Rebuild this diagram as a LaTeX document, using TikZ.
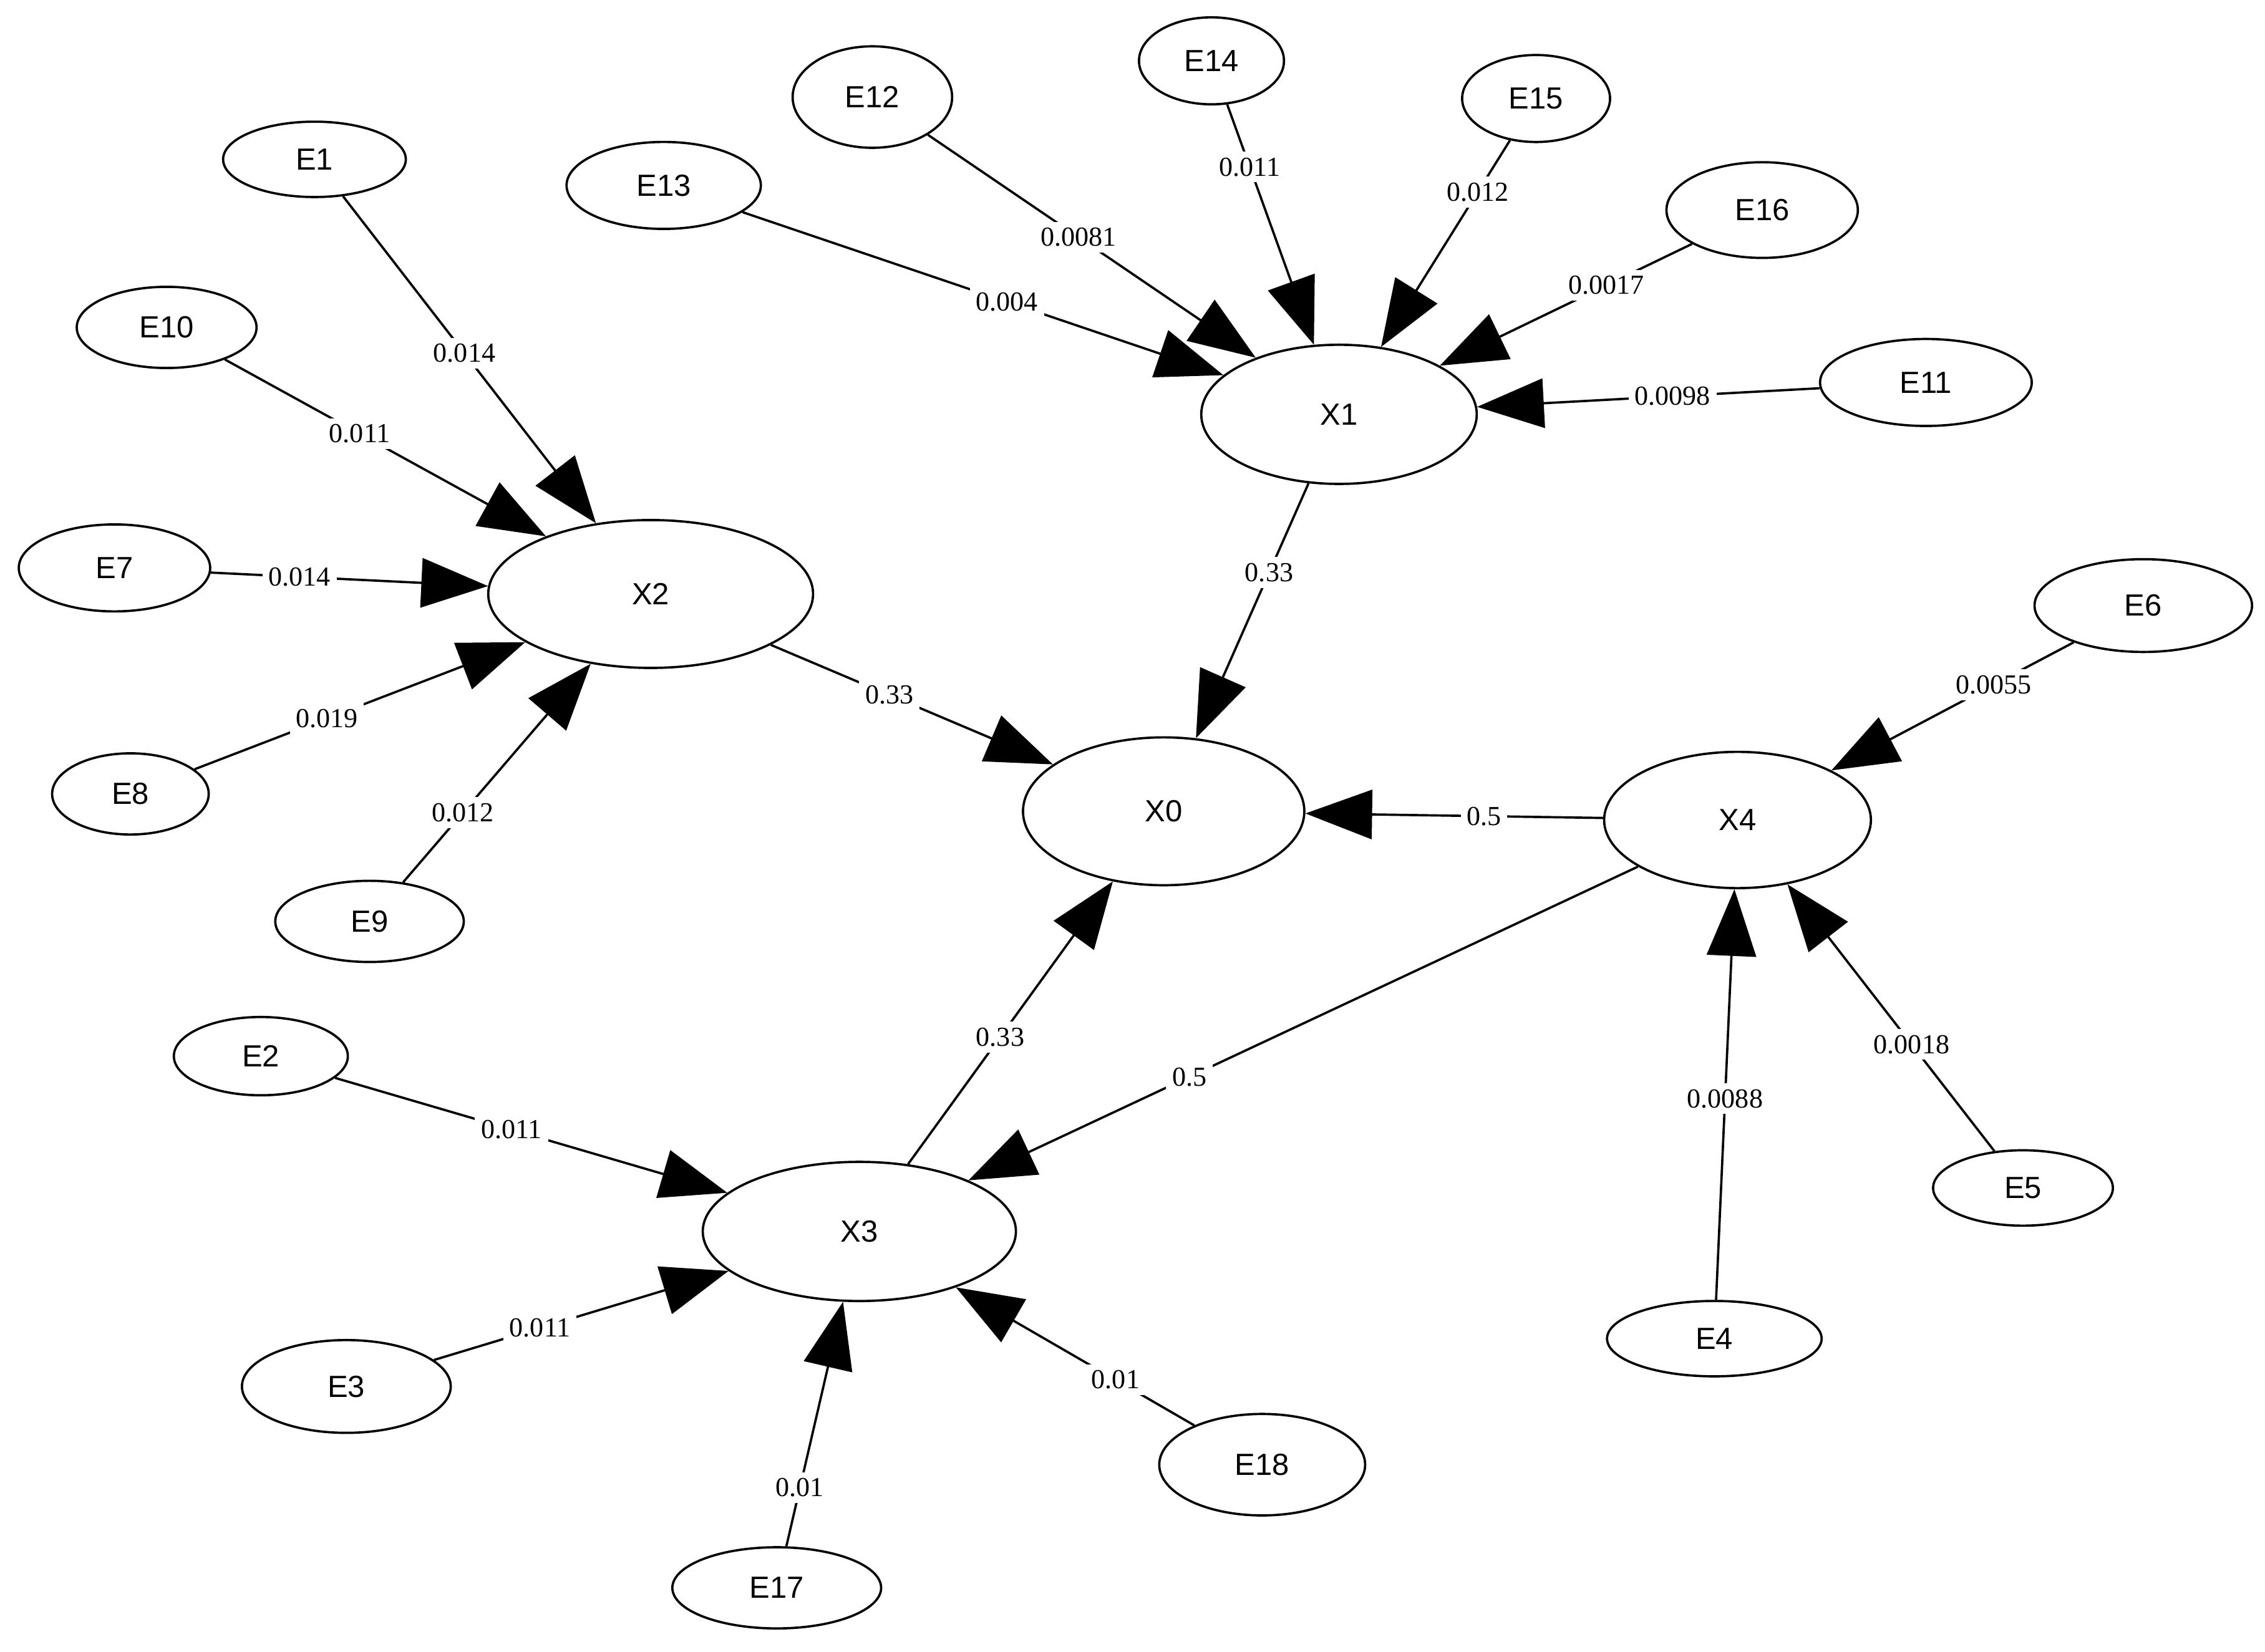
\documentclass[tikz,border=0pt]{standalone}
\usepackage{fontspec}
\setmainfont{Liberation Serif}
\newfontfamily\nodefont{Liberation Sans}
\usetikzlibrary{shapes.geometric, arrows.meta}

\begin{document}
\begin{tikzpicture}[x=0.01cm, y=-0.01cm,
    var/.style={ellipse, draw, line width=0.45pt, inner sep=0pt, font=\nodefont\fontsize{6}{7}\selectfont},
    sz/.style 2 args={minimum width=#1cm, minimum height=#2cm},
    link/.style={-{Triangle[length=4.6mm,width=3.4mm]}, line width=0.45pt},
    w/.style={fill=white, inner sep=1.2pt, font=\fontsize{5.4}{6}\selectfont}]
        \useasboundingbox (0,0) rectangle (1563,1140);

        % latentes
        \node[var, sz={1.90}{0.96}] (X1) at (924,286) {X1};
        \node[var, sz={2.24}{1.02}] (X2) at (449,410) {X2};
        \node[var, sz={1.94}{1.02}] (X0) at (803,560) {X0};
        \node[var, sz={1.84}{0.94}] (X4) at (1199,566) {X4};
        \node[var, sz={2.16}{0.96}] (X3) at (593,850) {X3};

        % erros de X2
        \node[var, sz={1.26}{0.52}] (E1) at (217,110) {E1};
        \node[var, sz={1.24}{0.56}] (E10) at (115,226) {E10};
        \node[var, sz={1.32}{0.60}] (E7) at (79,392) {E7};
        \node[var, sz={1.08}{0.56}] (E8) at (90,548) {E8};
        \node[var, sz={1.30}{0.56}] (E9) at (255,636) {E9};

        % erros de X1
        \node[var, sz={1.34}{0.60}] (E13) at (458,128) {E13};
        \node[var, sz={1.10}{0.70}] (E12) at (602,67) {E12};
        \node[var, sz={1.00}{0.60}] (E14) at (836,42) {E14};
        \node[var, sz={1.02}{0.60}] (E15) at (1060,68) {E15};
        \node[var, sz={1.32}{0.66}] (E16) at (1216,145) {E16};
        \node[var, sz={1.46}{0.60}] (E11) at (1329,264) {E11};

        % erros de X4
        \node[var, sz={1.50}{0.64}] (E6) at (1479,418) {E6};
        \node[var, sz={1.24}{0.52}] (E5) at (1396,820) {E5};
        \node[var, sz={1.48}{0.52}] (E4) at (1183,924) {E4};

        % erros de X3
        \node[var, sz={1.20}{0.54}] (E2) at (180,729) {E2};
        \node[var, sz={1.44}{0.64}] (E3) at (239,957) {E3};
        \node[var, sz={1.44}{0.56}] (E17) at (536,1096) {E17};
        \node[var, sz={1.42}{0.70}] (E18) at (871,1011) {E18};

        \draw[link] (E1) -- node[w, pos=.48] {0.014} (X2);
        \draw[link] (E10) -- node[w, pos=.42] {0.011} (X2);
        \draw[link] (E7) -- node[w, pos=.32] {0.014} (X2);
        \draw[link] (E8) -- node[w, pos=.40] {0.019} (X2);
        \draw[link] (E9) -- node[w, pos=.32] {0.012} (X2);

        \draw[link] (E13) -- node[w, pos=.55] {0.004} (X1);
        \draw[link] (E12) -- node[w, pos=.46] {0.0081} (X1);
        \draw[link] (E14) -- node[w, pos=.26] {0.011} (X1);
        \draw[link] (E15) -- node[w, pos=.25] {0.012} (X1);
        \draw[link] (E16) -- node[w, pos=.34] {0.0017} (X1);
        \draw[link] (E11) -- node[w, pos=.43] {0.0098} (X1);

        \draw[link] (E6) -- node[w, pos=.33] {0.0055} (X4);
        \draw[link] (E4) -- node[w, pos=.49] {0.0088} (X4);
        \draw[link] (E5) -- node[w, pos=.40] {0.0018} (X4);

        \draw[link] (E2) -- node[w, pos=.45] {0.011} (X3);
        \draw[link] (E3) -- node[w, pos=.36] {0.011} (X3);
        \draw[link] (E17) -- node[w, pos=.24] {0.01} (X3);
        \draw[link] (E18) -- node[w, pos=.33] {0.01} (X3);

        \draw[link] (X1) -- node[w, pos=.35] {0.33} (X0);
        \draw[link] (X2) -- node[w, pos=.42] {0.33} (X0);
        \draw[link] (X3) -- node[w, pos=.45] {0.33} (X0);
        \draw[link] (X4) -- node[w, pos=.40] {0.5} (X0);
        \draw[link] (X4) -- node[w, pos=.67] {0.5} (X3);
    \end{tikzpicture}
\end{document}
